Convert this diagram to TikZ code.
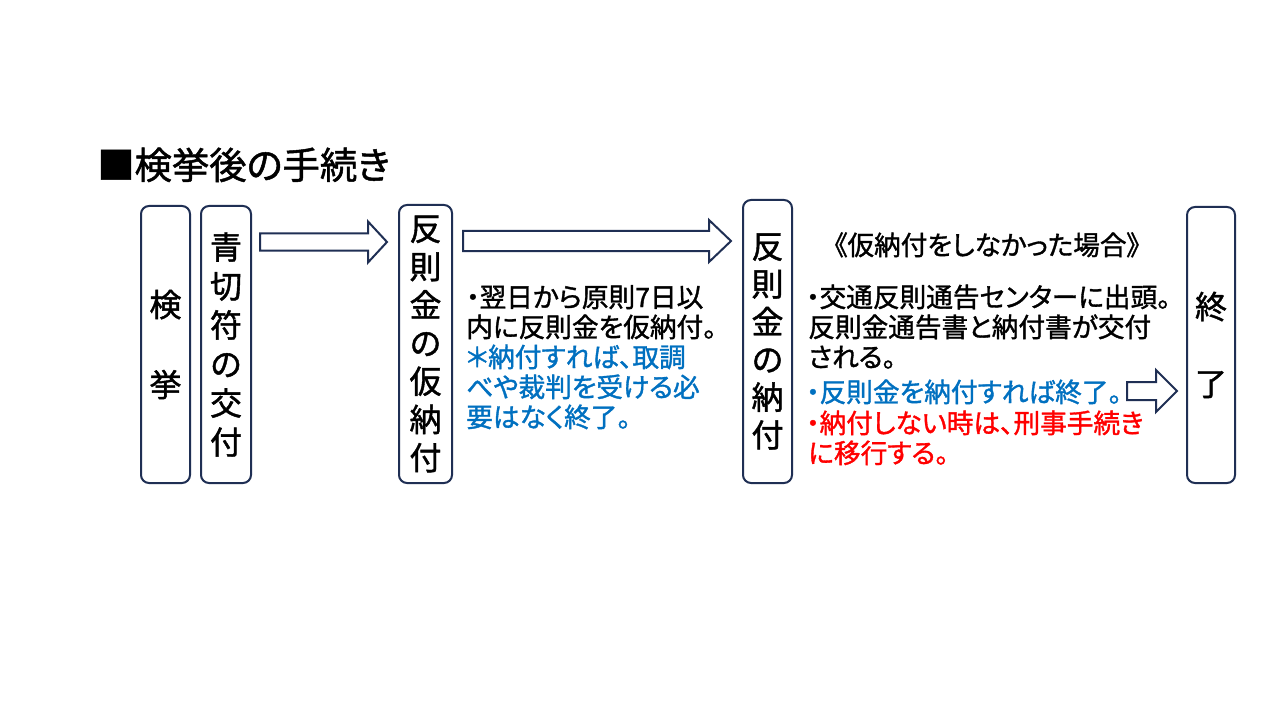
\documentclass[tikz,border=0pt]{standalone}
\usepackage{fontspec}
\setmainfont{Noto Sans CJK JP}[RawFeature=+palt, FakeBold=1.3]
\usetikzlibrary{calc}
\definecolor{navy}{RGB}{31,47,84}
\definecolor{pblue}{RGB}{0,112,192}
\definecolor{pred}{RGB}{255,0,0}
\newcommand\blockarrow[5]{%
  \draw[arrowline] ($(#1)+(0,-#3)$) -- ($(#2)+(-#5,-#3)$) -- ($(#2)+(-#5,-#4)$) -- (#2)
    -- ($(#2)+(-#5,#4)$) -- ($(#2)+(-#5,#3)$) -- ($(#1)+(0,#3)$) -- cycle;}
\begin{document}
\begin{tikzpicture}[x=0.75pt,y=-0.75pt,
  vbox/.style={draw=navy, line width=1.5pt, rounded corners=6pt, fill=white,
    inner sep=0pt, align=center},
  arrowline/.style={draw=navy, line width=1.5pt, fill=white, line join=miter},
  txt/.style={anchor=base west, inner sep=0pt, font=\fontsize{20}{22.5}\selectfont},
  bluetxt/.style={txt, text=pblue},
  redtxt/.style={txt, text=pred}]
\useasboundingbox[fill=white] (0,0) rectangle (1280,720);

% title
\node[anchor=base west, inner sep=0pt, font=\fontsize{28}{32}\selectfont] (title) at (97,179) {■検挙後の手続き};

% boxes
\node[vbox, minimum width=36.75pt, minimum height=207.75pt, font=\fontsize{24}{28}\selectfont]
  (b1) at (165.5,344.5) {検\\[32pt]挙};
\node[vbox, minimum width=37.5pt, minimum height=207.75pt, font=\fontsize{24}{29.25}\selectfont]
  (b2) at (226,344.5) {青\\切\\符\\の\\交\\付};
\node[vbox, minimum width=39.75pt, minimum height=208.5pt, font=\fontsize{24}{28.65}\selectfont]
  (b3) at (425.5,344) {反\\則\\金\\の\\仮\\納\\付};
\node[vbox, minimum width=36.75pt, minimum height=212.25pt, font=\fontsize{24}{28.3}\selectfont]
  (b4) at (767.5,341.5) {反\\則\\金\\の\\納\\付};
\node[vbox, minimum width=36pt, minimum height=207pt, font=\fontsize{24}{28}\selectfont]
  (b5) at (1211,345) {終\\[29.75pt]了};

% arrows
\coordinate (a1s) at ($(b2.east |- 0,242)+(8,0)$);
\coordinate (a1e) at ($(b3.west |- 0,242)+(-11,0)$);
\blockarrow{a1s}{a1e}{8.5}{20.5}{19}
\coordinate (a2s) at ($(b3.east |- 0,241)+(10,0)$);
\coordinate (a2e) at ($(b4.west |- 0,241)+(-11,0)$);
\blockarrow{a2s}{a2e}{10}{21}{22}
\coordinate (a3s) at (1127,391);
\coordinate (a3e) at ($(b5.west |- 0,391)+(-9,0)$);
\blockarrow{a3s}{a3e}{9}{21}{21}

% column 2 text
\node[txt] (l1) at (466,307) {・翌日から原則7日以};
\node[txt] (l2) at (466,337) {内に反則金を仮納付。};
\node[bluetxt] (l3) at (466,367) {＊納付すれば、取調};
\node[bluetxt] (l4) at (466,397) {べや裁判を受ける必};
\node[bluetxt] (l5) at (466,427) {要はなく終了。};

% column 3 text
\node[txt, anchor=base] (h) at (987,255) {《仮納付をしなかった場合》};
\node[txt] (m1) at (806,307) {・交通反則通告センターに出頭。};
\node[txt] (m2) at (808,337) {反則金通告書と納付書が交付};
\node[txt] (m3) at (808,367) {される。};
\node[bluetxt] (m4) at (806,402) {・反則金を納付すれば終了。};
\node[redtxt] (m5) at (806,433) {・納付しない時は、刑事手続き};
\node[redtxt] (m6) at (808,463) {に移行する。};
\end{tikzpicture}
\end{document}
